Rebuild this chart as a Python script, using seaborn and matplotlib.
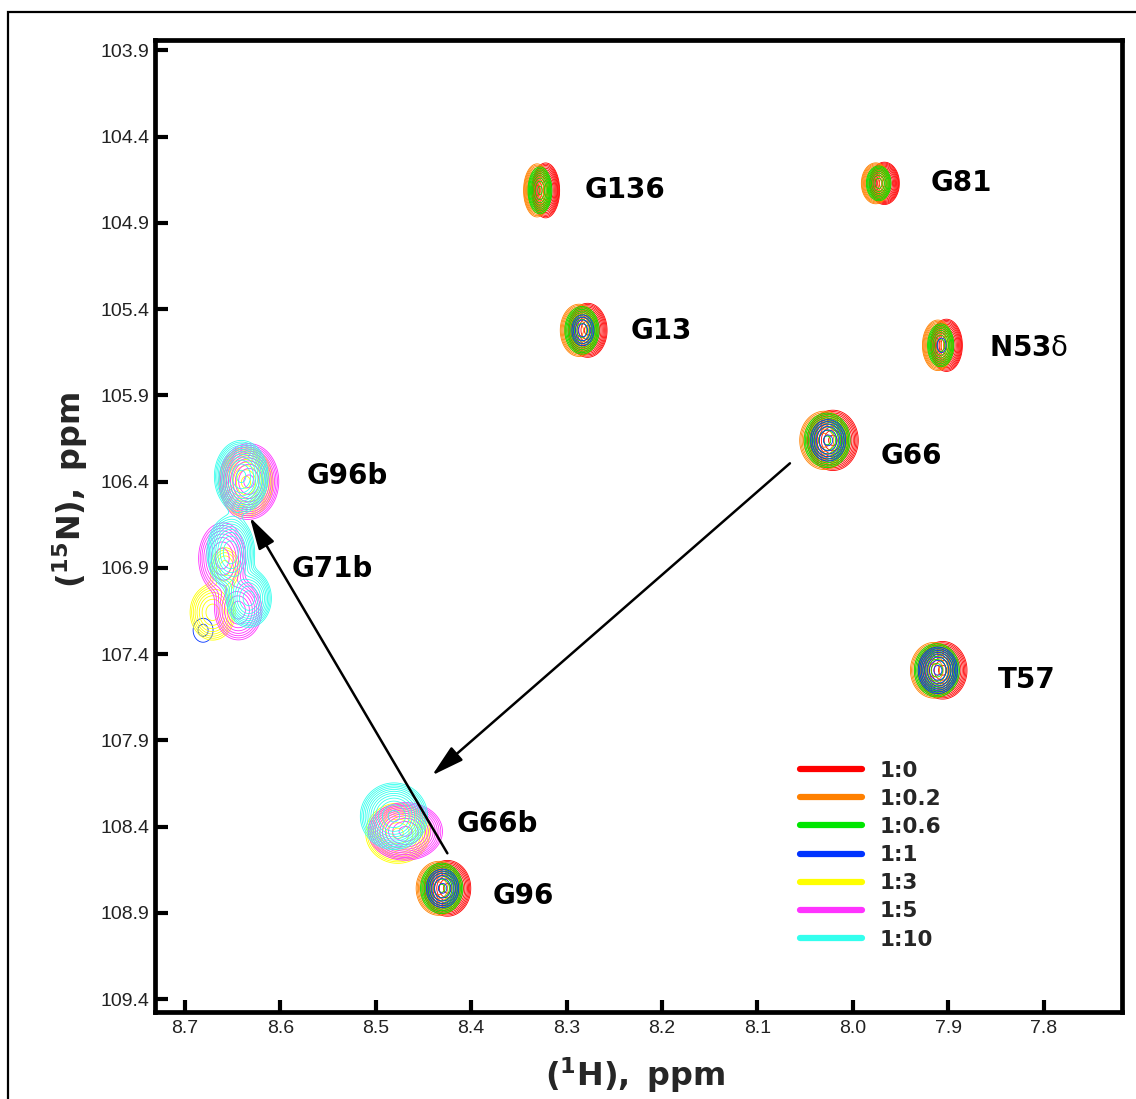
import numpy as np
import matplotlib
matplotlib.use("Agg")
import matplotlib.pyplot as plt
from matplotlib.lines import Line2D
from matplotlib.patches import Rectangle
import seaborn as sns

# titration points (protein : ligand) and their contour colours
ratios = ["1:0", "1:0.2", "1:0.6", "1:1", "1:3", "1:5", "1:10"]
ratio_colors = ["#ff0000", "#ff8000", "#00e600", "#0033ff", "#ffff00", "#ff33ff", "#33ffee"]

# free-state peaks: 1H / 15N positions (ppm) and line widths (ppm)
free_names = ["G136", "G81", "G13", "N53δ", "G66", "T57", "G96"]
free_h = [8.327, 7.972, 8.283, 7.907, 8.026, 7.911, 8.430]
free_n = [104.712, 104.671, 105.523, 105.610, 106.161, 107.494, 108.758]
free_sig_h = [0.0056, 0.0060, 0.0078, 0.0064, 0.0102, 0.0098, 0.0094]
free_sig_n = [0.061, 0.047, 0.060, 0.058, 0.067, 0.064, 0.062]

# free-peak intensities at the first four titration points
free_int_1_0 = [30, 30, 30, 30, 30, 30, 30]
free_int_1_02 = [24, 24, 24, 24, 24, 24, 24]
free_int_1_06 = [12, 10, 14, 10, 16, 18, 16]
free_int_1_1 = [0, 0, 3, 1.3, 5, 9, 5]
free_int = [free_int_1_0, free_int_1_02, free_int_1_06, free_int_1_1]
free_shift_h = [-0.005, 0.004, 0.001, 0.0]

# bound-state peak components (G96b, G66b, G71b)
bound_ratio = ["1:3", "1:5", "1:10",
               "1:3", "1:5", "1:10",
               "1:1", "1:3", "1:3", "1:5", "1:5", "1:10", "1:10"]
bound_h = [8.636, 8.633, 8.641,
           8.477, 8.469, 8.481,
           8.681, 8.658, 8.671, 8.661, 8.644, 8.652, 8.633]
bound_n = [106.404, 106.399, 106.370,
           108.439, 108.428, 108.340,
           107.262, 106.900, 107.158, 106.845, 107.146, 106.810, 107.077]
bound_int = [22, 30, 30,
             22, 30, 30,
             1.5, 4, 10, 10, 10, 20, 18]
bound_sig_h = [0.0114, 0.0120, 0.0108,
               0.0135, 0.0149, 0.0135,
               0.0116, 0.0090, 0.0110, 0.0115, 0.0115, 0.0102, 0.0098]
bound_sig_n = [0.082, 0.084, 0.080,
               0.070, 0.064, 0.074,
               0.077, 0.070, 0.075, 0.095, 0.080, 0.086, 0.070]

# assignment labels
label_names = ["G136", "G81", "G13", "N53$\\mathrm{\\delta}$", "G66", "T57", "G96", "G66b", "G96b", "G71b"]
label_h = [8.281, 7.919, 8.233, 7.857, 7.971, 7.848, 8.378, 8.415, 8.573, 8.588]
label_n = [104.712, 104.671, 105.529, 105.628, 106.254, 107.552, 108.804, 108.387, 106.370, 106.909]

# chemical-shift trajectories
arrow_from_h = [8.066, 8.425]
arrow_from_n = [106.294, 108.555]
arrow_to_h = [8.441, 8.632]
arrow_to_n = [108.103, 106.607]

x_ticks = [8.7, 8.6, 8.5, 8.4, 8.3, 8.2, 8.1, 8.0, 7.9, 7.8]
y_ticks = [103.9, 104.4, 104.9, 105.4, 105.9, 106.4, 106.9, 107.4, 107.9, 108.4, 108.9, 109.4]

sns.set_theme(style="white")
plt.rcParams["font.family"] = ["DejaVu Sans"]
plt.rcParams["mathtext.fontset"] = "dejavusans"

fig = plt.figure(figsize=(11.36, 10.99), dpi=100)
ax = fig.add_axes([155 / 1136, 1 - 1012 / 1099, (1122 - 155) / 1136, (1012 - 40) / 1099])

hh = np.linspace(7.70, 8.75, 1200)
nn = np.linspace(103.8, 109.5, 900)
H, N = np.meshgrid(hh, nn)
levels = 1.0 * 1.35 ** np.arange(12)


def gauss(h0, n0, amp, sh, sn):
    return amp * np.exp(-0.5 * ((H - h0) / sh) ** 2 - 0.5 * ((N - n0) / sn) ** 2)


for i, (ratio, color) in enumerate(zip(ratios, ratio_colors)):
    Z = np.zeros_like(H)
    if i < len(free_int):
        for k in range(len(free_names)):
            amp = free_int[i][k]
            if amp > 0:
                Z += gauss(free_h[k] + free_shift_h[i], free_n[k], amp, free_sig_h[k], free_sig_n[k])
    for k, r in enumerate(bound_ratio):
        if r == ratio:
            Z += gauss(bound_h[k], bound_n[k], bound_int[k], bound_sig_h[k], bound_sig_n[k])
    if Z.max() > levels[0]:
        ax.contour(H, N, Z, levels=levels, colors=color, linewidths=0.6, zorder=2 + i)

for name, h, n in zip(label_names, label_h, label_n):
    ax.text(h, n, name, ha="left", va="center", fontsize=20, fontweight="bold", color="black", zorder=20)

for fh, fn, th, tn in zip(arrow_from_h, arrow_from_n, arrow_to_h, arrow_to_n):
    ax.annotate("", xy=(th, tn), xytext=(fh, fn), zorder=21,
                arrowprops=dict(arrowstyle="-|>,head_length=1.1,head_width=0.3", lw=1.8,
                                color="black", mutation_scale=18, shrinkA=0, shrinkB=0))

ax.set_xlim(8.7314, 7.718)
ax.set_ylim(109.475, 103.84)
ax.set_xticks(x_ticks)
ax.set_xticklabels([f"{v:.1f}" for v in x_ticks])
ax.set_yticks(y_ticks)
ax.set_yticklabels([f"{v:.1f}" for v in y_ticks])
ax.tick_params(axis="both", direction="in", length=9, width=3, color="black",
               labelsize=14, labelcolor="#222222")
ax.tick_params(axis="x", pad=6, bottom=True, top=False)
ax.tick_params(axis="y", pad=4, left=True, right=False)
for lbl in ax.get_xticklabels() + ax.get_yticklabels():
    lbl.set_fontfamily(["Liberation Sans", "DejaVu Sans"])
for sp in ax.spines.values():
    sp.set_linewidth(3.4)
    sp.set_color("black")
ax.grid(False)
ax.set_facecolor("white")

ax.set_xlabel(r"$\mathbf{(^{1}H),\ ppm}$", fontsize=23)
ax.xaxis.set_label_coords(0.496, -0.045)
ax.set_ylabel(r"$\mathbf{(^{15}N),\ ppm}$", fontsize=23)
ax.yaxis.set_label_coords(-0.067, 0.537)

handles = [Line2D([], [], color=c, lw=4.5) for c in ratio_colors]
ax.legend(handles, ratios, loc="upper left", bbox_to_anchor=(0.667, 0.2587), frameon=False,
          prop={"weight": "bold", "size": 15.5}, handlelength=2.9, handletextpad=0.8,
          labelspacing=0.38, borderpad=0, borderaxespad=0)

fig.patches.append(Rectangle((8 / 1136, -0.2), 1.5, 1.2 - 12 / 1099, transform=fig.transFigure,
                             fill=False, edgecolor="black", lw=1.6))

fig.savefig("out.png", dpi=100, facecolor="white")
